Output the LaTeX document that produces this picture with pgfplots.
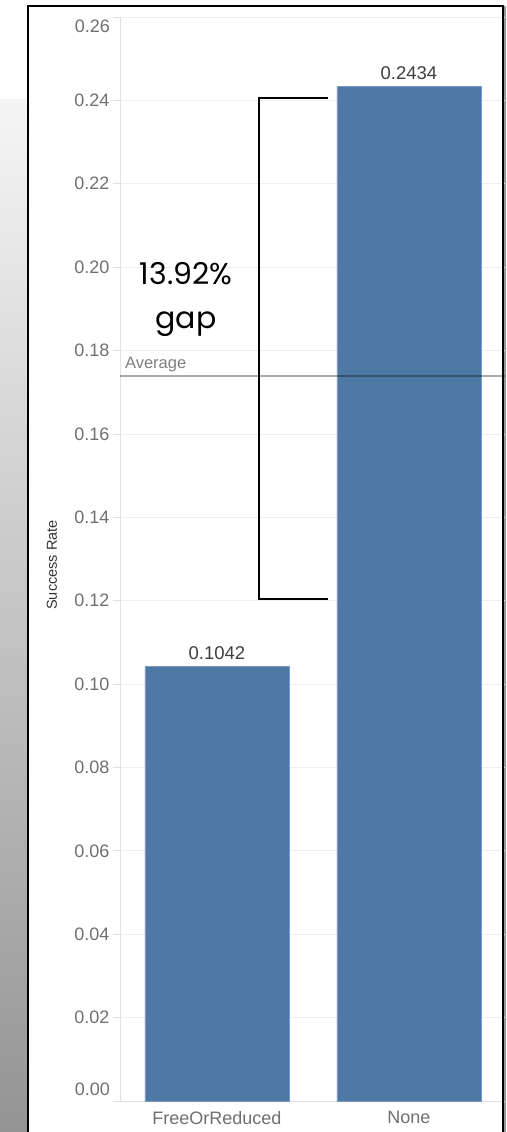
\documentclass[border=0pt]{standalone}
\usepackage{fontspec}
\setmainfont{Liberation Sans}
\newfontfamily\pop{Poppins}
\usepackage{pgfplots}
\pgfplotsset{compat=1.18}
\definecolor{tabblue}{RGB}{78,121,167}
\definecolor{tickgray}{RGB}{112,112,112}
\definecolor{gridgray}{RGB}{238,238,238}
\definecolor{axgray}{RGB}{225,225,225}
\begin{document}
\begin{tikzpicture}[x=1pt,y=1pt]
\path[use as bounding box] (0,0) rectangle (506,1132);
\fill[white] (0,0) rectangle (506,1132);
\shade[top color=black!4, bottom color=black!42] (0,0) rectangle (27,1032);
\fill[black!40] (504,0) rectangle (506,1126);
\begin{axis}[
  at={(120pt,31pt)}, anchor=south west,
  scale only axis, width=385pt, height=1084pt,
  xmin=-0.505, xmax=1.5, ymin=0, ymax=0.26,
  axis lines*=left,
  axis line style={axgray, line width=0.8pt},
  ytick={0,0.02,...,0.261},
  yticklabels={,0.02,0.04,0.06,0.08,0.10,0.12,0.14,0.16,0.18,0.20,0.22,0.24,},
  yticklabel style={font=\fontsize{18}{21}\selectfont, text=tickgray},
  /pgf/number format/assume math mode=true,
  ymajorgrids, grid style={gridgray, line width=0.8pt},
  tick align=outside, major tick length=7pt,
  ytick style={axgray, line width=0.8pt},
  xtick={0,1}, xticklabels={FreeOrReduced, None},
  xticklabel style={font=\fontsize{18}{21}\selectfont, text=tickgray},
  xtick style={draw=none},
  minor xtick={-0.5,0.5,1.5},
  minor tick length=5pt,
  minor x tick style={axgray, line width=0.8pt},
  clip=false,
  nodes near coords style={font=\fontsize{18.5}{21}\selectfont, text=black!75, yshift=3pt, /pgf/number format/.cd, fixed, fixed zerofill, precision=4},
]
\addplot[ybar, bar width=0.75, fill=tabblue, draw=tabblue!75!white, line width=0.6pt, nodes near coords] coordinates {(0,0.1042) (1,0.2434)};
\addplot[black, opacity=0.33, line width=2pt] coordinates {(-0.505,0.174) (1.5,0.174)};
\node[anchor=south west, font=\fontsize{16.5}{19}\selectfont, text=black!50, inner sep=1pt] at (axis cs:-0.485,0.1745) {Average};
\addplot[black, line width=1.8pt] coordinates {(0.578,0.2405) (0.219,0.2405) (0.219,0.1204) (0.578,0.1204)};
\node[align=center, font=\pop\fontsize{30}{44}\selectfont] at (axis cs:-0.161,0.1922) {13.92\%\\gap};
\node[anchor=east, font=\fontsize{18}{21}\selectfont, text=tickgray, inner sep=0pt] at (axis cs:-0.505,0.26) [xshift=-10pt, yshift=-9pt] {0.26};
\node[anchor=east, font=\fontsize{18}{21}\selectfont, text=tickgray, inner sep=0pt] at (axis cs:-0.505,0) [xshift=-10pt, yshift=12pt] {0.00};
\end{axis}
\node[rotate=90, font=\fontsize{14.5}{17}\selectfont, text=black!80] at (52,567) {Success Rate};
\draw[line width=2pt] (28,0) -- (28,1126) -- (503,1126) -- (503,0);
\end{tikzpicture}
\end{document}
